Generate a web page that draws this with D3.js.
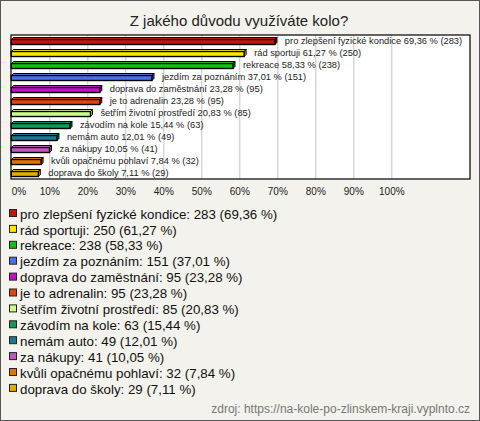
<!DOCTYPE html>
<html lang="cs">
<head>
<meta charset="utf-8">
<title>Z jakého důvodu využíváte kolo?</title>
<script src="https://cdn.jsdelivr.net/npm/d3@7"></script>
<style>
  body { margin: 0; background: #fff; }
  svg { display: block; font-family: "Liberation Sans", Arial, sans-serif; }
</style>
</head>
<body>
<script>
// data
var categories = ["pro zlepšení fyzické kondice", "rád sportuji", "rekreace", "jezdím za poznáním",
  "doprava do zaměstnání", "je to adrenalin", "šetřím životní prostředí", "závodím na kole",
  "nemám auto", "za nákupy", "kvůli opačnému pohlaví", "doprava do školy"];
var counts = [283, 250, 238, 151, 95, 95, 85, 63, 49, 41, 32, 29];
var percents = [69.36, 61.27, 58.33, 37.01, 23.28, 23.28, 20.83, 15.44, 12.01, 10.05, 7.84, 7.11];
var colors = ["#c0180c", "#ffe800", "#12c012", "#4a6ff0", "#c010c8", "#e04410", "#c8ff88",
  "#10985a", "#1c7890", "#c058c0", "#e07408", "#e0b000"];
var tickValues = [0, 10, 20, 30, 40, 50, 60, 70, 80, 90, 100];
var title = "Z jakého důvodu využíváte kolo?";
var source = "zdroj: https://na-kole-po-zlinskem-kraji.vyplnto.cz";

var W = 480, H = 421;
var plot = { left: 11, top: 35, right: 470, bottom: 179 };

function fmt(v) { return v.toFixed(2).replace(".", ","); }

var svg = d3.select("body").append("svg").attr("width", W).attr("height", H);

// background + frame
svg.append("rect").attr("x", 0.5).attr("y", 0.5).attr("width", W - 1).attr("height", H - 1)
  .attr("fill", "#f3f2ec").attr("stroke", "#555");

svg.append("text").attr("x", 239).attr("y", 26).attr("text-anchor", "middle")
  .attr("font-size", 15).attr("fill", "#222").text(title);

var x = d3.scaleLinear().domain([0, 100]).range([11.3, 391.3]);
var y = d3.scaleBand().domain(categories).range([plot.top, plot.bottom]);

svg.append("rect").attr("x", plot.left).attr("y", plot.top)
  .attr("width", plot.right - plot.left).attr("height", plot.bottom - plot.top)
  .attr("fill", "#fff");

// gridlines
var grid = svg.append("g").attr("transform", "translate(0," + plot.bottom + ")")
  .call(d3.axisBottom(x).tickValues(tickValues.slice(1)).tickSize(-(plot.bottom - plot.top)).tickFormat(""));
grid.select(".domain").remove();
grid.selectAll("line").attr("stroke", "#c4c4c4");

// tick labels
var axis = svg.append("g").attr("transform", "translate(0," + plot.bottom + ")")
  .call(d3.axisBottom(x).tickValues(tickValues).tickSize(0).tickPadding(9).tickFormat(function(d) { return d + "%"; }));
axis.select(".domain").remove();
axis.selectAll("text").attr("font-size", 10).attr("fill", "#222")
  .attr("font-family", "'Liberation Sans', Arial, sans-serif");
axis.selectAll("text").filter(function(d) { return d === 0; }).attr("text-anchor", "start");

// bars (with small 3D face)
var d = 2, bh = 5;
var bars = svg.append("g").selectAll("g").data(categories).enter().append("g");
bars.each(function(c, i) {
  var g = d3.select(this);
  var x0 = x(0), x1 = x(percents[i]);
  var yc = y(c) + y.bandwidth() / 2;
  var y0 = yc - bh / 2 + 1;
  var light = d3.color(colors[i]).brighter(0.5);
  var dark = d3.color(colors[i]).darker(0.6);
  g.append("path")
    .attr("d", "M" + x0 + "," + y0 + "L" + (x0 + d) + "," + (y0 - d) + "L" + (x1 + d) + "," + (y0 - d) + "L" + x1 + "," + y0 + "Z")
    .attr("fill", light).attr("stroke", "#000").attr("stroke-width", 1);
  g.append("path")
    .attr("d", "M" + x1 + "," + y0 + "L" + (x1 + d) + "," + (y0 - d) + "L" + (x1 + d) + "," + (y0 + bh - d) + "L" + x1 + "," + (y0 + bh) + "Z")
    .attr("fill", dark).attr("stroke", "#000").attr("stroke-width", 1);
  g.append("rect").attr("x", x0).attr("y", y0).attr("width", x1 - x0).attr("height", bh)
    .attr("fill", colors[i]).attr("stroke", "#000").attr("stroke-width", 1.4);
  g.append("text").attr("x", x1 + 10).attr("y", yc).attr("dy", "0.35em")
    .attr("font-size", 9.3).attr("fill", "#222")
    .text(c + " " + fmt(percents[i]) + " % (" + counts[i] + ")");
});

// plot frame
svg.append("rect").attr("x", plot.left).attr("y", plot.top)
  .attr("width", plot.right - plot.left).attr("height", plot.bottom - plot.top)
  .attr("fill", "none").attr("stroke", "#000").attr("stroke-width", 1.2);

// legend
var legend = svg.append("g").selectAll("g").data(categories).enter().append("g")
  .attr("transform", function(c, i) { return "translate(0," + (214 + i * 15.9) + ")"; });
legend.append("rect").attr("x", 9.5).attr("y", -4.5).attr("width", 7).attr("height", 7)
  .attr("fill", function(c, i) { return colors[i]; }).attr("stroke", "#222");
legend.append("text").attr("x", 20).attr("y", 0).attr("dy", "0.35em")
  .attr("font-size", 13.3).attr("fill", "#111")
  .text(function(c, i) { return c + ": " + counts[i] + " (" + fmt(percents[i]) + " %)"; });

svg.append("text").attr("x", 470).attr("y", 413).attr("text-anchor", "end")
  .attr("font-size", 12).attr("fill", "#777").text(source);
</script>
</body>
</html>
